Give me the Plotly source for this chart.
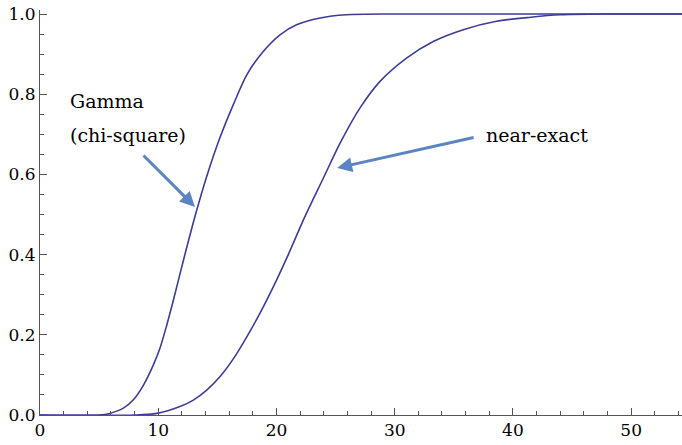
import plotly.graph_objects as go

# Values
gamma_x = [0, 5.0, 5.9, 7.05, 7.9, 8.74, 9.59, 10.15, 10.72, 11.28, 11.84, 12.35, 13.2, 14.1, 15.2, 16.35, 17.5, 18.9, 20.3, 21.7, 23.7, 25.9, 30, 40, 55]
gamma_y = [0, 0, 0.004, 0.017, 0.038, 0.074, 0.125, 0.167, 0.224, 0.286, 0.352, 0.411, 0.505, 0.595, 0.69, 0.774, 0.849, 0.907, 0.948, 0.973, 0.99, 0.998, 1, 1, 1]

near_x = [0, 8, 9.87, 11.84, 12.97, 14.1, 15.23, 16.35, 17.49, 18.61, 19.74, 21.0, 22.3, 23.97, 25.38, 27.07, 28.76, 31.0, 33.3, 35.8, 38.6, 41.5, 44.0, 48, 55]
near_y = [0, 0, 0.004, 0.021, 0.037, 0.062, 0.096, 0.14, 0.195, 0.254, 0.320, 0.40, 0.488, 0.591, 0.678, 0.766, 0.832, 0.89, 0.932, 0.961, 0.982, 0.992, 0.998, 1, 1]

x_ticks = [0, 10, 20, 30, 40, 50]
y_ticks = [0.0, 0.2, 0.4, 0.6, 0.8, 1.0]

line_color = "#3d3d99"
arrow_color = "#5b84c0"
font_family = "DejaVu Serif"

fig = go.Figure()
fig.add_trace(go.Scatter(x=gamma_x, y=gamma_y, mode="lines",
                         line=dict(color=line_color, width=1.6, shape="spline", smoothing=0.8), showlegend=False))
fig.add_trace(go.Scatter(x=near_x, y=near_y, mode="lines",
                         line=dict(color=line_color, width=1.6, shape="spline", smoothing=0.8), showlegend=False))

# Annotations
ann_font = dict(family=font_family, size=19, color="black")
fig.add_annotation(x=2.37, y=0.783, xref="x", yref="y", text="Gamma", showarrow=False,
                   xanchor="left", yanchor="middle", font=ann_font)
fig.add_annotation(x=2.37, y=0.698, xref="x", yref="y", text="(chi-square)", showarrow=False,
                   xanchor="left", yanchor="middle", font=ann_font)
fig.add_annotation(x=37.56, y=0.698, xref="x", yref="y", text="near-exact", showarrow=False,
                   xanchor="left", yanchor="middle", font=ann_font)

fig.add_annotation(x=13.11, y=0.519, ax=8.63, ay=0.651, xref="x", yref="y", axref="x", ayref="y",
                   text="", showarrow=True, arrowhead=2, arrowsize=1, arrowwidth=3, arrowcolor=arrow_color)
fig.add_annotation(x=25.13, y=0.616, ax=36.8, ay=0.693, xref="x", yref="y", axref="x", ayref="y",
                   text="", showarrow=True, arrowhead=2, arrowsize=1, arrowwidth=3, arrowcolor=arrow_color)

axis_common = dict(showgrid=False, zeroline=False, showline=True, linecolor="#555555", linewidth=1,
                   ticks="inside", ticklen=7, tickcolor="#555555", tickwidth=1, automargin=False,
                   tickfont=dict(family=font_family, size=17, color="black"))

fig.update_xaxes(range=[0, 54.3], tickvals=x_ticks, ticktext=[str(v) for v in x_ticks],
                 minor=dict(dtick=2, tick0=0, ticks="inside", ticklen=4, tickcolor="#555555", tickwidth=1),
                 **axis_common)
fig.update_yaxes(range=[0, 1.01], tickvals=y_ticks, ticktext=[f"{v:.1f}" for v in y_ticks],
                 minor=dict(dtick=0.05, tick0=0, ticks="inside", ticklen=4, tickcolor="#555555", tickwidth=1),
                 **axis_common)

fig.update_layout(width=682, height=445, margin=dict(l=40, r=0, t=10, b=30),
                  plot_bgcolor="white", paper_bgcolor="white",
                  font=dict(family=font_family))

fig.write_html("out.html", config={"displayModeBar": False},
               post_script="document.body.style.margin='0px';")
